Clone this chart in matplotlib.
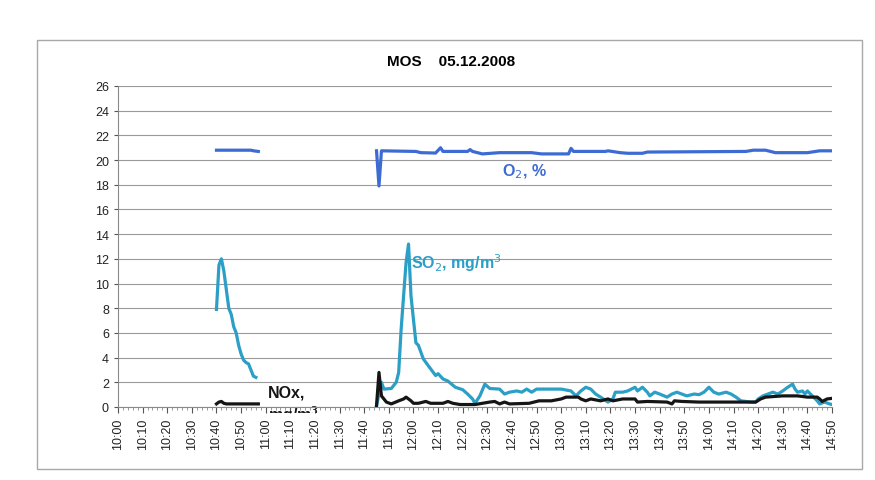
import matplotlib
matplotlib.use("Agg")
import matplotlib.pyplot as plt
from matplotlib.patches import Rectangle
from matplotlib.transforms import Bbox
import numpy as np

plt.rcParams['font.family'] = ['Liberation Sans', 'DejaVu Sans']

# время в минутах от 10:00
tick_labels = ["10:00", "10:10", "10:20", "10:30", "10:40", "10:50",
               "11:00", "11:10", "11:20", "11:30", "11:40", "11:50",
               "12:00", "12:10", "12:20", "12:30", "12:40", "12:50",
               "13:00", "13:10", "13:20", "13:30", "13:40", "13:50",
               "14:00", "14:10", "14:20", "14:30", "14:40", "14:50"]
tick_minutes = [i * 10 for i in range(len(tick_labels))]

# первый участок измерений
o2_t1 = [40, 54, 55, 57]
o2_v1 = [20.8, 20.8, 20.75, 20.7]
so2_t1 = [40, 41, 42, 43, 44, 45, 46, 47, 48, 49, 50, 51, 52, 53, 54, 55, 56]
so2_v1 = [7.9, 11.5, 12.0, 11.0, 9.5, 8.0, 7.5, 6.5, 6.0, 5.0, 4.3, 3.8,
          3.6, 3.5, 3.0, 2.5, 2.4]
nox_t1 = [40, 41, 42, 43, 44, 57]
nox_v1 = [0.25, 0.4, 0.45, 0.3, 0.25, 0.25]

# второй участок измерений
o2_t2 = [105, 106, 107, 121, 123, 129, 131, 132, 142, 143, 144, 148, 155,
         168, 172, 183, 184, 185, 198, 199, 204, 207, 213, 215, 255, 258,
         263, 267, 280, 285, 290]
o2_v2 = [20.75, 17.9, 20.75, 20.7, 20.6, 20.57, 21.0, 20.7, 20.7, 20.85,
         20.7, 20.5, 20.6, 20.6, 20.5, 20.5, 20.95, 20.7, 20.7, 20.75,
         20.6, 20.55, 20.55, 20.65, 20.7, 20.8, 20.8, 20.6, 20.6, 20.75,
         20.75]

so2_t2 = [105, 107, 108, 111, 113, 114, 115, 117, 118, 119, 121, 122, 124,
          126, 129, 130, 132, 134, 137, 140, 142, 144, 145, 147, 149, 151,
          155, 157, 159, 162, 164, 166, 168, 170, 180, 184, 186, 188, 190,
          192, 194, 196, 199, 201, 202, 205, 207, 210, 211, 213, 215, 216,
          218, 220, 223, 225, 227, 229, 231, 234, 236, 238, 240, 242, 244,
          247, 249, 251, 253, 255, 257, 259, 260, 262, 264, 266, 268, 270,
          272, 274, 275, 276, 278, 279, 280, 282, 284, 285, 287, 289, 290]
so2_v2 = [0.1, 2.0, 1.45, 1.5, 2.0, 2.8, 6.3, 11.7, 13.2, 9.0, 5.2, 5.0, 3.9,
          3.35, 2.55, 2.7, 2.27, 2.1, 1.6, 1.4, 1.05, 0.65, 0.3, 0.9, 1.85,
          1.5, 1.45, 1.05, 1.2, 1.3, 1.2, 1.45, 1.2, 1.45, 1.45, 1.3, 0.9,
          1.3, 1.6, 1.45, 1.05, 0.8, 0.4, 0.65, 1.2, 1.2, 1.3, 1.6, 1.3,
          1.6, 1.2, 0.9, 1.2, 1.05, 0.8, 1.05, 1.2, 1.05, 0.9, 1.05, 1.0,
          1.2, 1.6, 1.2, 1.05, 1.2, 1.05, 0.8, 0.5, 0.45, 0.4, 0.4, 0.65,
          0.9, 1.05, 1.2, 1.05, 1.3, 1.6, 1.85, 1.45, 1.2, 1.3, 1.05, 1.3,
          0.9, 0.5, 0.25, 0.4, 0.25, 0.2]

nox_t2 = [105, 106, 107, 109, 111, 114, 116, 117, 119, 120, 122, 125, 127,
          132, 134, 136, 139, 145, 151, 153, 155, 157, 159, 167, 169, 171,
          176, 180, 182, 187, 188, 190, 192, 196, 199, 201, 205, 210, 211,
          215, 223, 225, 226, 229, 236, 259, 261, 263, 270, 276, 280, 284,
          285, 286, 288, 290]
nox_v2 = [0.1, 2.8, 0.9, 0.4, 0.25, 0.5, 0.65, 0.8, 0.5, 0.3, 0.3, 0.45, 0.3,
          0.3, 0.45, 0.3, 0.2, 0.2, 0.4, 0.45, 0.25, 0.4, 0.25, 0.3, 0.4, 0.5,
          0.5, 0.65, 0.8, 0.8, 0.65, 0.5, 0.65, 0.5, 0.65, 0.5, 0.65, 0.65,
          0.4, 0.45, 0.4, 0.25, 0.5, 0.45, 0.4, 0.4, 0.65, 0.8, 0.9, 0.9,
          0.8, 0.8, 0.65, 0.45, 0.65, 0.7]

C_O2 = '#3d6bd4'
C_SO2 = '#2b9fc6'
C_NOX = '#151515'

fig = plt.figure(figsize=(8.75, 4.81), dpi=100)
fig.patch.set_facecolor('white')

# рамка диаграммы
fig.patches.append(Rectangle((37 / 875, 1 - 470 / 481), 825 / 875, 429 / 481,
                             transform=fig.transFigure, fill=False,
                             edgecolor='#a8a8a8', linewidth=1.0))

ax = fig.add_axes([118 / 875, 1 - 408 / 481, 714 / 875, 321 / 481])
ax.set_facecolor('none')

lw = 2.3
ax.plot(so2_t1, so2_v1, color=C_SO2, lw=lw, solid_joinstyle='round', zorder=3)
ax.plot(so2_t2, so2_v2, color=C_SO2, lw=lw, solid_joinstyle='round', zorder=3)
ax.plot(nox_t1, nox_v1, color=C_NOX, lw=lw, solid_joinstyle='round', zorder=4)
ax.plot(nox_t2, nox_v2, color=C_NOX, lw=lw, solid_joinstyle='round', zorder=4)
ax.plot(o2_t1, o2_v1, color=C_O2, lw=lw, solid_joinstyle='round', zorder=3)
ax.plot(o2_t2, o2_v2, color=C_O2, lw=lw, solid_joinstyle='round', zorder=3)

ax.set_xlim(0, 290)
ax.set_ylim(0, 26)
ax.set_yticks(np.arange(0, 27, 2))
ax.set_xticks(tick_minutes)
ax.set_xticklabels(tick_labels, rotation=90)
ax.set_xticks(np.arange(0, 291, 2), minor=True)
ax.tick_params(axis='x', which='major', length=4, direction='out',
               labelsize=9, colors='#555555', labelcolor='#222222')
ax.tick_params(axis='x', which='minor', length=2.5, direction='out',
               colors='#888888')
ax.tick_params(axis='y', length=3, labelsize=9, colors='#555555',
               labelcolor='#222222')

ax.grid(axis='y', color='#9a9a9a', linewidth=0.8)
ax.set_axisbelow(True)
for s in ['top', 'right']:
    ax.spines[s].set_visible(False)
for s in ['left', 'bottom']:
    ax.spines[s].set_color('#8a8a8a')
    ax.spines[s].set_linewidth(0.8)

# подписи рядов
ax.text(156, 19.1, 'O$_2$, %', color=C_O2, fontsize=11.5, fontweight='bold',
        ha='left', va='center')
ax.text(119, 11.7, 'SO$_2$, mg/m$^3$', color=C_SO2, fontsize=11.5,
        fontweight='bold', ha='left', va='center')
nox_txt = ax.text(61, 1.85, 'NOx,\nmg/m$^3$', color=C_NOX, fontsize=11.5,
                  fontweight='bold', ha='left', va='top', linespacing=1.25,
                  zorder=1)
# вторая строка подписи NOx почти скрыта подписями оси, как в оригинале
nox_txt.set_clip_box(Bbox([[118, 481 - 414], [832, 481 - 87]]))
nox_txt.set_clip_on(True)

fig.text(0.515, 1 - 62 / 481, 'MOS    05.12.2008', ha='center', va='center',
         fontsize=11, fontweight='bold')

fig.savefig('out.png', dpi=100)
